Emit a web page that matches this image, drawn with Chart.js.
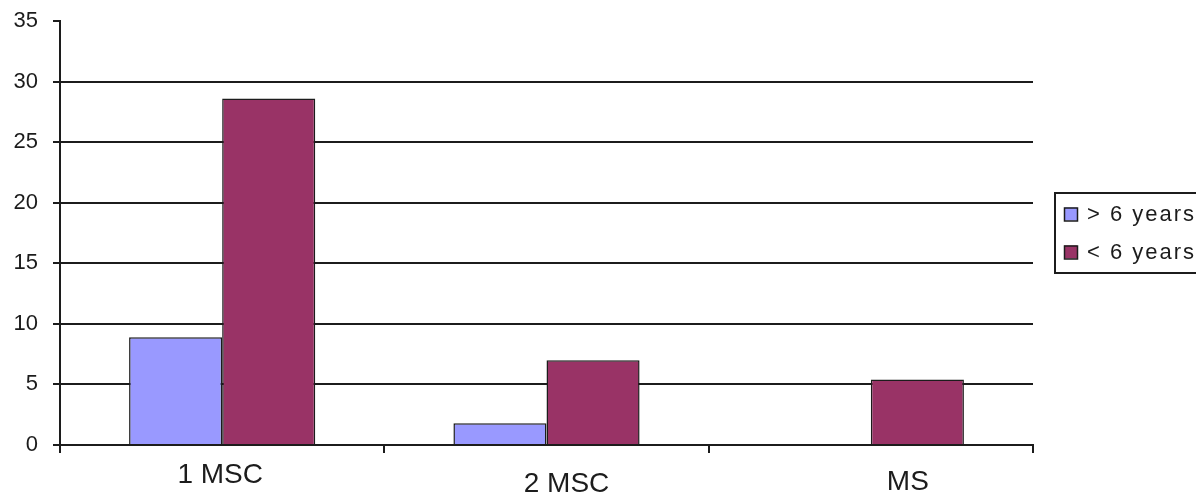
<!DOCTYPE html>
<html>
<head>
<meta charset="utf-8">
<script src="https://cdn.jsdelivr.net/npm/chart.js@4/dist/chart.umd.min.js"></script>
<style>
  html, body { margin: 0; padding: 0; background: #ffffff; }
  #wrap { width: 1196px; height: 492px; }
</style>
</head>
<body>
<div id="wrap"><canvas id="c" width="1196" height="492"></canvas></div>
<script>
const categories = ['1 MSC', '2 MSC', 'MS'];
const seriesLabels = ['> 6 years', '< 6 years'];
const olderValues = [8.9, 1.8, null];
const youngerValues = [28.6, 7.0, 5.4];
const yMin = 0, yMax = 35, yStep = 5;

const FONT = '"Liberation Sans", Arial, sans-serif';
const INK = '#1c1c1c';
const seriesColors = ['#9999FF', '#993366'];

const xLabelPlugin = {
  id: 'xLabels',
  afterDraw(chart, args, opts) {
    const ctx = chart.ctx, xs = chart.scales.x;
    ctx.save();
    ctx.font = opts.size + 'px ' + FONT;
    ctx.fillStyle = INK;
    ctx.textAlign = 'center';
    ctx.textBaseline = 'alphabetic';
    chart.data.labels.forEach((lab, i) => {
      const x = xs.getPixelForValue(i) + opts.dx[i];
      const y = xs.top + opts.dy[i];
      ctx.fillText(lab, x, y);
    });
    ctx.restore();
  }
};

const legendPlugin = {
  id: 'boxLegend',
  afterDraw(chart, args, opts) {
    const ctx = chart.ctx, a = chart.chartArea;
    const left = a.right + opts.gap;
    const h = opts.rowH * chart.data.datasets.length + opts.pad * 2;
    const top = (a.top + a.bottom) / 2 - h / 2;
    ctx.save();
    ctx.lineWidth = 2;
    ctx.strokeStyle = INK;
    ctx.strokeRect(Math.round(left), Math.round(top), 300, h);
    ctx.font = opts.size + 'px ' + FONT;
    try { ctx.letterSpacing = opts.spacing + 'px'; } catch (e) {}
    ctx.textBaseline = 'middle';
    ctx.textAlign = 'left';
    chart.data.datasets.forEach((ds, i) => {
      const cy = top + opts.pad + opts.rowH * (i + 0.5);
      const sx = left + 9;
      ctx.fillStyle = ds.backgroundColor;
      ctx.fillRect(sx, cy - 6.5, 13, 13);
      ctx.lineWidth = 1.5;
      ctx.strokeStyle = INK;
      ctx.strokeRect(sx + 0.5, cy - 6.5 + 0.5, 13, 13);
      ctx.fillStyle = INK;
      ctx.fillText(ds.label, left + 32, cy + 1);
    });
    ctx.restore();
  }
};

new Chart(document.getElementById('c'), {
  type: 'bar',
  data: {
    labels: categories,
    datasets: [
      { label: seriesLabels[0], data: olderValues, backgroundColor: seriesColors[0],
        borderColor: INK, borderWidth: 1.5, categoryPercentage: 0.574, barPercentage: 1.0 },
      { label: seriesLabels[1], data: youngerValues, backgroundColor: seriesColors[1],
        borderColor: INK, borderWidth: 1.5, categoryPercentage: 0.574, barPercentage: 1.0 }
    ]
  },
  options: {
    responsive: false,
    animation: false,
    devicePixelRatio: 1,
    layout: { padding: { top: 21, right: 163, left: 0, bottom: 0 } },
    plugins: {
      legend: { display: false },
      tooltip: { enabled: false },
      xLabels: { size: 28, dx: [-2, 20, 37], dy: [38, 47, 45] },
      boxLegend: { gap: 22, rowH: 38, pad: 2, size: 22, spacing: 2 }
    },
    scales: {
      x: {
        offset: true,
        afterFit(scale) { scale.height = 47; scale.paddingLeft = 0; scale.paddingRight = 0; },
        grid: { display: true, drawOnChartArea: false, drawTicks: true, tickLength: 8,
                color: INK, tickColor: INK, lineWidth: 2, offset: true },
        border: { display: true, color: INK, width: 2 },
        ticks: { display: false }
      },
      y: {
        min: yMin, max: yMax,
        afterFit(scale) { scale.width = 60; scale.paddingTop = 0; scale.paddingBottom = 0; },
        ticks: { stepSize: yStep, padding: 15, color: INK,
                 font: { family: FONT, size: 22 } },
        grid: {
          drawTicks: true, tickLength: 7, lineWidth: 2,
          color: (c) => (c.tick && c.tick.value === yMax) ? 'rgba(0,0,0,0)' : INK,
          tickColor: INK
        },
        border: { display: true, color: INK, width: 2 }
      }
    }
  },
  plugins: [xLabelPlugin, legendPlugin]
});
</script>
</body>
</html>
